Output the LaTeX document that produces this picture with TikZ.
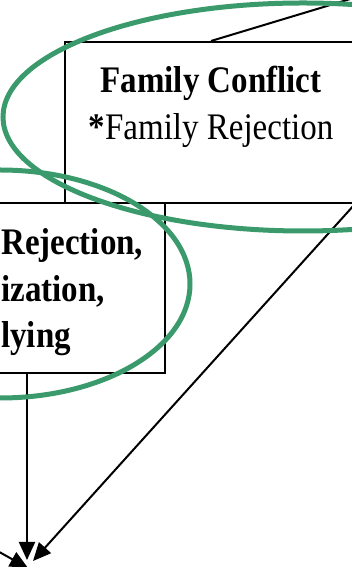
\documentclass[tikz,border=0pt]{standalone}
\usepackage{fontspec}
\setmainfont{Liberation Serif}[FakeStretch=0.88]
\usepackage{xcolor}
\usepackage{tikz}
\usetikzlibrary{positioning, arrows.meta, calc}
\definecolor{ovalgreen}{HTML}{3A9A6C}

\begin{document}
\begin{tikzpicture}[x=1pt, y=1pt,
    box/.style={draw=black, line width=2pt, inner sep=0pt},
    link/.style={line width=2pt, -{Triangle[length=18pt, width=16pt]}},
    oval/.style={draw=ovalgreen, line width=5pt}]
    \useasboundingbox (0,0) rectangle (352,567);
    \clip (0,0) rectangle (352,567);
    % boxes
    \node[box, minimum width=292pt, minimum height=161pt] (family) at (211,444.5) {};
    \node[box, minimum width=295pt, minimum height=170pt] (peer) at (17.5,279) {};
    \node[align=center, anchor=base, inner sep=0pt, font=\fontsize{37.5}{47}\selectfont] (familyText) at (211,427)
      {\textbf{Family Conflict}\\\textbf{*}Family Rejection};
    \node[align=left, anchor=base west, inner sep=0pt, font=\fontsize{37.5}{46.5}\selectfont\bfseries] (peerText) at (1,219)
      {Rejection,\\ization,\\lying};
    % connectors
    \coordinate (upRight) at (390,580);
    \coordinate (offLeft) at (-60,48);
    \coordinate (goal) at (27,0);
    \draw[line width=2pt] (family.north) -- (upRight);
    \draw[link] (peer.south -| goal) -- ([yshift=7pt]goal);
    \draw[link] ([xshift=-3pt]family.south east) -- ([shift={(6pt,6pt)}]goal);
    \draw[link] (offLeft) -- ([shift={(1pt,-1pt)}]goal);
    % highlight ovals
    \draw[oval] (303,450) ellipse [x radius=300pt, y radius=114pt];
    \draw[oval] (0,283) ellipse [x radius=190pt, y radius=114pt];
\end{tikzpicture}
\end{document}
